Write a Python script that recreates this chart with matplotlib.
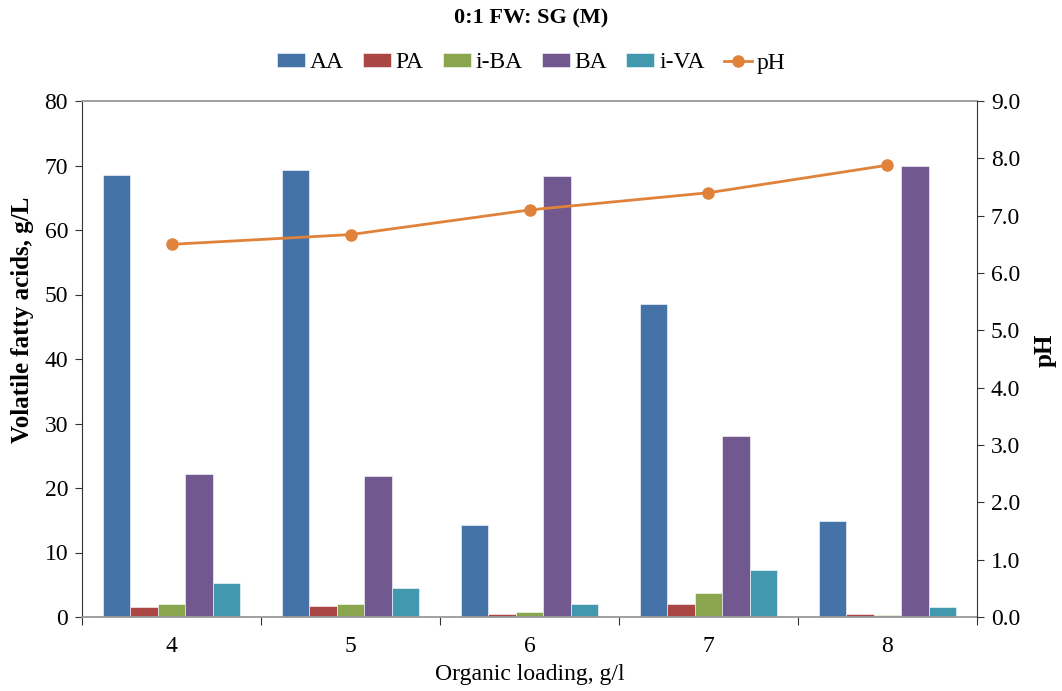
import matplotlib
matplotlib.use("Agg")
import matplotlib.pyplot as plt
import numpy as np
from matplotlib.ticker import FixedLocator, FormatStrFormatter

plt.rcParams['font.family'] = ['Liberation Serif', 'DejaVu Serif']

categories = ['4', '5', '6', '7', '8']
AA = [68.5, 69.3, 14.2, 48.5, 14.9]
PA = [1.5, 1.75, 0.45, 2.05, 0.5]
iBA = [2.05, 2.05, 0.8, 3.7, 0.3]
BA = [22.2, 21.9, 68.4, 28.1, 69.9]
iVA = [5.3, 4.5, 1.95, 7.35, 1.6]
pH = [6.50, 6.67, 7.10, 7.40, 7.88]

series = [('AA', AA, '#4572A7'), ('PA', PA, '#AA4643'), ('i-BA', iBA, '#89A54E'),
          ('BA', BA, '#71588F'), ('i-VA', iVA, '#4198AF')]

fig = plt.figure(figsize=(10.62, 6.91), dpi=100)
ax = fig.add_axes([82/1062, 74/691, 895/1062, 516/691])
x = np.arange(len(categories))
w = 0.154
handles = []
for i, (name, vals, col) in enumerate(series):
    b = ax.bar(x + (i - 2) * w, vals, width=w, color=col, edgecolor='white', linewidth=0.4, label=name, zorder=2)
    handles.append(b)

ax.set_xlim(-0.5, 4.5)
ax.set_ylim(0, 80)
ax.set_yticks(np.arange(0, 81, 10))
ax.xaxis.set_major_locator(FixedLocator(np.arange(-0.5, 4.6, 1)))
ax.xaxis.set_minor_locator(FixedLocator(x))
ax.set_xticklabels([], minor=False)
ax.set_xticklabels(categories, minor=True)
ax.tick_params(axis='x', which='major', length=6, direction='out', color='#333333')
ax.tick_params(axis='x', which='minor', length=0, labelsize=17, pad=14)
ax.tick_params(axis='y', length=5, direction='out', labelsize=17, color='#333333', pad=5)
for s in ['top', 'bottom']:
    ax.spines[s].set_color('#999999')
    ax.spines[s].set_linewidth(1.3)
ax.spines['left'].set_color('#333333')
ax.spines['right'].set_visible(False)
ax.set_xlabel('Organic loading, g/l', fontsize=17)
ax.xaxis.set_label_coords(0.5, -(664 - 617) / 516)
ax.set_ylabel('Volatile fatty acids, g/L', fontsize=18, fontweight='bold')
ax.yaxis.set_label_coords((34 - 82) / 895, (617 - 320) / 516)

ax2 = ax.twinx()
ln, = ax2.plot(x, pH, color='#E0823A', linewidth=2, marker='o', markersize=8, label='pH', zorder=3)
ax2.set_ylim(0, 9)
ax2.set_yticks(np.arange(0, 9.1, 1))
ax2.yaxis.set_major_formatter(FormatStrFormatter('%.1f'))
ax2.tick_params(axis='y', length=5, direction='out', labelsize=17, color='#333333', pad=5)
for s in ['top', 'bottom', 'left']:
    ax2.spines[s].set_visible(False)
ax2.spines['right'].set_color('#333333')
ax2.set_ylabel('pH', fontsize=18, fontweight='bold')
ax2.yaxis.set_label_coords((1034 - 82) / 895, (617 - 350) / 516)

fig.text(0.5, 1 - 18/691, '0:1 FW: SG (M)', ha='center', va='center', fontsize=16, fontweight='bold')
fig.legend(handles + [ln], [s[0] for s in series] + ['pH'], loc='center', bbox_to_anchor=(0.5, 1 - 63/691),
           ncol=6, frameon=False, fontsize=17, handlelength=1.2, handleheight=0.55, columnspacing=0.8, handletextpad=0.2)

fig.savefig('out.png', dpi=100)
